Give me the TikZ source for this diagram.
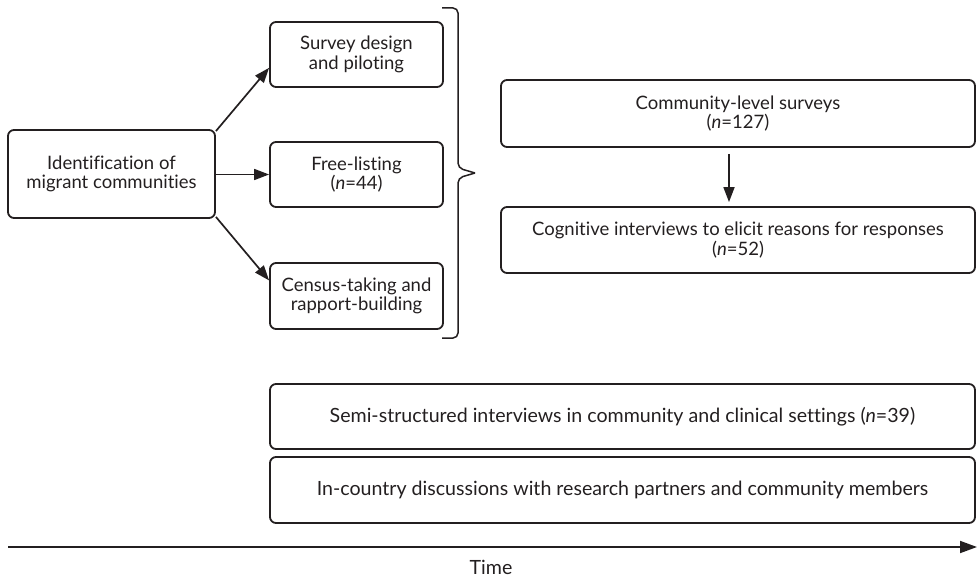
\documentclass[tikz,border=0pt]{standalone}
\usepackage{fontspec}
\setmainfont[Ligatures=NoCommon,RawFeature={-liga;-calt;-dlig}]{Lato}
\usetikzlibrary{arrows.meta,calc}
\definecolor{ink}{HTML}{231F20}
\tikzset{
  box/.style={draw=ink, line width=1.8pt, rounded corners=6pt, align=center, inner sep=0pt, text=ink,
    font=\fontsize{18.5}{19.5}\selectfont},
  widebox/.style={box, font=\fontsize{19.6}{20.5}\selectfont},
  conn/.style={draw=ink, line width=1.7pt, -{Triangle[length=15pt,width=11pt]}},
}
\begin{document}
\begin{tikzpicture}[x=1pt,y=-1pt]
\useasboundingbox (0,0) rectangle (977,577);
\node[box, minimum width=207pt, minimum height=88pt] (ident) at (111.5,174) {Identification of\\migrant communities};
\node[box, minimum width=173pt, minimum height=65pt] (survey) at (356.5,54.5) {Survey design\\and piloting};
\node[box, minimum width=173pt, minimum height=65pt] (free) at (356.5,174.5) {Free-listing\\(\textit{n}=44)};
\node[box, minimum width=173pt, minimum height=66pt] (census) at (356.5,296) {Census-taking and\\rapport-building};
\node[box, minimum width=474pt, minimum height=67pt] (comm) at (738,113.5) {Community-level surveys\\(\textit{n}=127)};
\node[box, minimum width=474pt, minimum height=66pt] (cog) at (738,240) {Cognitive interviews to elicit reasons for responses\\(\textit{n}=52)};
\node[widebox, minimum width=705pt, minimum height=65pt] (semi) at (622.5,416.5) {Semi-structured interviews in community and clinical settings (\textit{n}=39)};
\node[widebox, minimum width=705pt, minimum height=66pt] (incountry) at (622.5,490) {In-country discussions with research partners and community members};

\coordinate (sv) at ($(survey.south west)!0.3!(survey.north west)$);
\coordinate (cv) at ($(census.north west)!0.27!(census.south west)$);
\draw[conn] ([yshift=-2pt]ident.north east) -- (sv);
\draw[conn] (ident.east |- free.west) -- (free.west);
\draw[conn] ([yshift=2pt]ident.south east) -- (cv);

\coordinate (ax) at (729,0);
\draw[conn, shorten <=6pt, shorten >=4pt] (comm.south -| ax) -- (cog.north -| ax);

% brace
\coordinate (bt) at (442,8);
\coordinate (bb) at (442,338);
\coordinate (btip) at (475,173);
\draw[ink, line width=1.5pt, rounded corners=5pt] (bt) -- (458,8) -- (458,168) -- (btip);
\draw[ink, line width=1.5pt, rounded corners=5pt] (btip) -- (458,178) -- (458,338) -- (bb);

% timeline
\coordinate (ts) at (8,547);
\coordinate (te) at (977,547);
\draw[draw=ink, line width=1.8pt, -{Triangle[length=17pt,width=12pt]}] (ts) -- (te);
\node[text=ink, font=\fontsize{19.6}{20.5}\selectfont, anchor=base] (time) at (491,574) {Time};
\end{tikzpicture}
\end{document}
